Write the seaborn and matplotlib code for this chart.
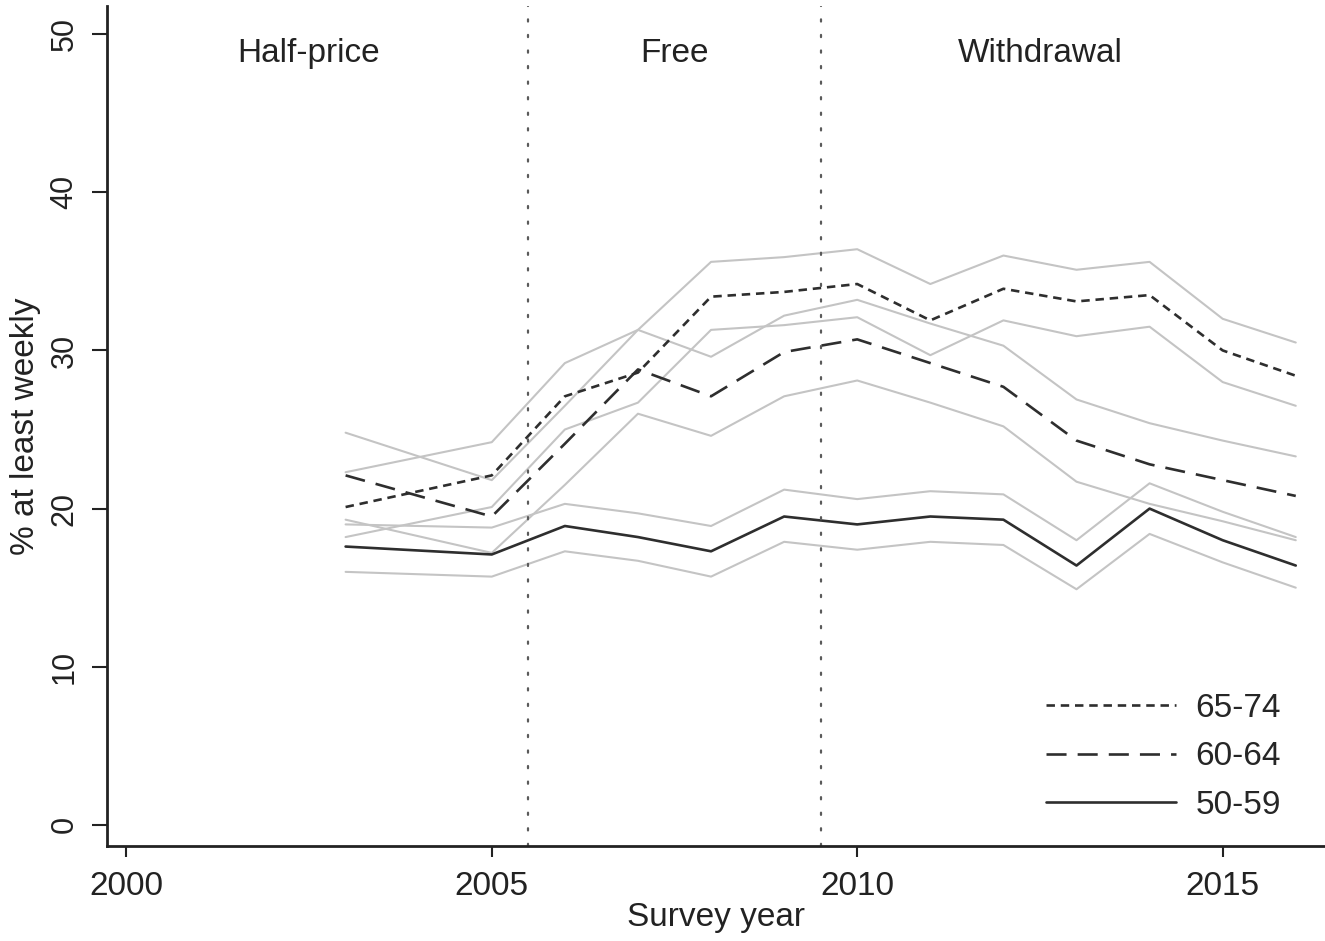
import pandas as pd
import matplotlib
matplotlib.use("Agg")
import matplotlib.pyplot as plt
from matplotlib.lines import Line2D
import seaborn as sns

# survey years (2004 not surveyed separately)
years = [2003, 2005, 2006, 2007, 2008, 2009, 2010, 2011, 2012, 2013, 2014, 2015, 2016]

# % using bus at least weekly, by age group, with confidence limits
est_6574 = [20.1, 22.1, 27.1, 28.6, 33.4, 33.7, 34.2, 31.9, 33.9, 33.1, 33.5, 30.0, 28.4]
upp_6574 = [22.3, 24.2, 29.2, 31.3, 35.6, 35.9, 36.4, 34.2, 36.0, 35.1, 35.6, 32.0, 30.5]
low_6574 = [18.2, 20.1, 25.0, 26.7, 31.3, 31.6, 32.1, 29.7, 31.9, 30.9, 31.5, 28.0, 26.5]

est_6064 = [22.1, 19.5, 24.1, 28.8, 27.1, 29.9, 30.7, 29.2, 27.7, 24.3, 22.8, 21.8, 20.8]
upp_6064 = [24.8, 21.8, 26.5, 31.3, 29.6, 32.2, 33.2, 31.7, 30.3, 26.9, 25.4, 24.3, 23.3]
low_6064 = [19.3, 17.2, 21.5, 26.0, 24.6, 27.1, 28.1, 26.7, 25.2, 21.7, 20.3, 19.2, 18.0]

est_5059 = [17.6, 17.1, 18.9, 18.2, 17.3, 19.5, 19.0, 19.5, 19.3, 16.4, 20.0, 18.0, 16.4]
upp_5059 = [19.0, 18.8, 20.3, 19.7, 18.9, 21.2, 20.6, 21.1, 20.9, 18.0, 21.6, 19.8, 18.2]
low_5059 = [16.0, 15.7, 17.3, 16.7, 15.7, 17.9, 17.4, 17.9, 17.7, 14.9, 18.4, 16.6, 15.0]

age_groups = ["65-74", "60-64", "50-59"]
periods = ["Half-price", "Free", "Withdrawal"]
period_mid = [2002.5, 2007.5, 2012.5]
policy_breaks = [2005.5, 2009.5]

# long-form tables for seaborn
est = pd.concat([
    pd.DataFrame({"year": years, "pct": v, "age": a})
    for a, v in zip(age_groups, [est_6574, est_6064, est_5059])
])
ci_lists = {"u65": upp_6574, "l65": low_6574, "u60": upp_6064,
            "l60": low_6064, "u50": upp_5059, "l50": low_5059}
ci = pd.concat([
    pd.DataFrame({"year": years, "pct": v, "band": k})
    for k, v in ci_lists.items()
])

sns.set_theme(style="white")
plt.rcParams["font.family"] = ["Liberation Sans", "DejaVu Sans"]

dash_map = {"65-74": (3.2, 2.2), "60-64": (7.6, 4.2), "50-59": ""}
dark = "#2e2e2e"
light = "#c4c4c4"

fig = plt.figure(figsize=(13.25, 9.41), dpi=100)
ax = fig.add_axes([0.081, 0.101, 0.919, 0.893])

sns.lineplot(data=ci, x="year", y="pct", units="band", estimator=None,
             color=light, linewidth=1.5, ax=ax, legend=False)
sns.lineplot(data=est, x="year", y="pct", style="age", dashes=dash_map,
             color=dark, linewidth=1.9, ax=ax, legend=False)

for xb in policy_breaks:
    ax.axvline(xb, color="#5a5a5a", linestyle=(0, (1, 6)), linewidth=1.6,
               dash_capstyle="round")

for name, xm in zip(periods, period_mid):
    ax.text(xm, 48.8, name, ha="center", va="center", fontsize=24, color="#222222")

ax.set_xlim(1999.74, 2016.4)
ax.set_ylim(-1.33, 51.8)
ax.set_xticks([2000, 2005, 2010, 2015])
ax.set_yticks([0, 10, 20, 30, 40, 50])
ax.tick_params(axis="x", length=8, width=1.5, pad=10, labelsize=24, direction="out",
               bottom=True, colors="#222222")
ax.tick_params(axis="y", length=11, width=1.5, pad=9, labelsize=22, direction="out",
               left=True, colors="#222222", labelrotation=90)
for lab in ax.get_yticklabels():
    lab.set_va("center")

ax.set_xlabel("Survey year", fontsize=24, labelpad=0, color="#222222")
ax.set_ylabel("% at least weekly", fontsize=24, labelpad=6, color="#222222")

sns.despine(ax=ax)
for side in ["left", "bottom"]:
    ax.spines[side].set_linewidth(2)
    ax.spines[side].set_color("#222222")

handles = [Line2D([], [], color=dark, linewidth=1.9, dashes=dash_map[a]) for a in age_groups]
ax.legend(handles, age_groups, loc="lower right", bbox_to_anchor=(0.975, 0.014),
          frameon=False, fontsize=24, handlelength=3.9, handletextpad=0.6,
          labelspacing=0.53, borderaxespad=0)

fig.savefig("out.png", dpi=100)
